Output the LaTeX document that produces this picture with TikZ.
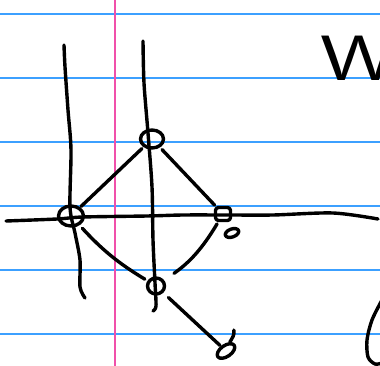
\documentclass[tikz,border=0pt]{standalone}
\usepackage{tikz}
\usetikzlibrary{shapes.geometric}
\definecolor{ruleblue}{RGB}{60,160,255}
\definecolor{marginpink}{RGB}{240,80,170}
\tikzset{
    ink/.style={
        line width=3.4pt, line cap=round, line join=round
    },
    ruled/.style={
        draw=ruleblue, line width=1.4pt
    },
    knot/.style={
        ellipse, draw, ink, inner sep=0pt
    }
}

\begin{document}
\begin{tikzpicture}[ x=1pt, y=-1pt ]

	\useasboundingbox (0, 0) rectangle (380, 366);
	\clip (0, 0) rectangle (380, 366);

	% paper
	\foreach \yrule in {14, 78, 142, 206, 270, 334}
		\draw[ ruled ] (0, \yrule) -- (380, \yrule);
	\draw[ marginpink, line width=1.4pt ] (115, 0) -- (115, 366);

	% long strokes
	\draw[ ink ] plot[ smooth ] coordinates {(64,45) (65,67) (68,110) (71,150) (70,207) (75,233) (80,260) (80,287) (85,298)};
	\draw[ ink ] plot[ smooth ] coordinates {(143,41) (144,83) (148,133) (152,187) (153,240) (155,283) (156,306) (153,311)};
	\draw[ ink ] plot[ smooth ] coordinates {(6,221) (57,219) (83,217) (147,216) (183,215) (230,215) (273,215) (333,213) (378,219)};

	% knots
	\node[ knot, minimum width=25pt, minimum height=20pt ] (lft) at (71, 216) {};
	\node[ knot, minimum width=23pt, minimum height=18pt ] (topn) at (152, 139) {};
	\node[ draw, ink, rounded corners=3pt, minimum width=15pt, minimum height=13pt, inner sep=0pt ] (rgt) at (223, 214) {};
	\node[ knot, minimum width=17pt, minimum height=16pt ] (bot) at (156, 286) {};
	\node[ knot, minimum width=14pt, minimum height=8pt, rotate=20 ] (tagr) at (232, 233) {};
	\node[ knot, minimum width=20pt, minimum height=11pt, rotate=35 ] (tagb) at (226, 351) {};

	% links
	\draw[ ink, shorten <=1pt, shorten >=2pt ] (lft) -- (topn);
	\draw[ ink, shorten <=3pt, shorten >=1pt ] (topn) -- (rgt);
	\draw[ ink, shorten <=2pt, shorten >=12pt ] (rgt) to[ bend left=12 ] (bot);
	\draw[ ink, shorten <=4pt, shorten >=3pt ] (lft) to[ bend right=8 ] (bot);
	\draw[ ink, shorten <=7pt, shorten >=1pt ] (bot) -- (tagb);
	\draw[ ink ] (tagb.north east) to[ out=60, in=-80 ] ++(4, -12);

	% margin writing
	\node[ inner sep=0pt, anchor=base west ] (word) at (320, 81) {\sffamily\fontsize{64}{64}\selectfont\scalebox{1.35}[1]{W}};
	\draw[ ink ] plot[ smooth ] coordinates {(382,300) (372,320) (367,340) (368,357) (375,364) (382,363)};

\end{tikzpicture}
\end{document}
